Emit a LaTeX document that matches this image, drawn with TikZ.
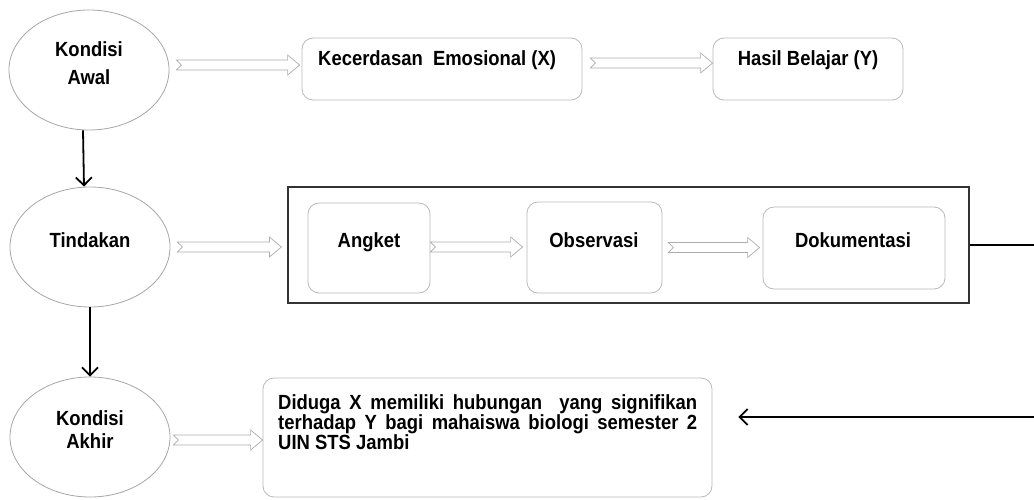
\documentclass[tikz,border=0pt]{standalone}
\usepackage{fontspec}
\setmainfont{Liberation Sans}[FakeStretch=0.9]
\usetikzlibrary{shapes.geometric,arrows.meta,positioning,calc}

% hollow block arrow, drawn level from the first point to the second
\newcommand{\blockarrow}[2]{%
  \path #1 coordinate (ba-s);
  \path #2 coordinate (ba-t);
  \path (ba-t |- ba-s) coordinate (ba-e);
  \draw[hollow] ($(ba-s)+(0,-5)$) -- ($(ba-e)+(-12,-5)$) -- ($(ba-e)+(-12,-10)$) -- (ba-e)
    -- ($(ba-e)+(-12,10)$) -- ($(ba-e)+(-12,5)$) -- ($(ba-s)+(0,5)$) -- ($(ba-s)+(5,0)$) -- cycle;}

\begin{document}
\begin{tikzpicture}[
    x=1pt, y=-1pt,
    every node/.style={font=\bfseries\fontsize{20.5}{24}\selectfont},
    state/.style={ellipse, draw=gray!70, line width=0.8pt, minimum width=160pt, minimum height=120pt, inner sep=0pt},
    box/.style={rectangle, rounded corners=11pt, draw=gray!55, line width=0.8pt, inner sep=0pt},
    frame/.style={rectangle, draw=black!80, line width=1.2pt, inner sep=0pt},
    hollow/.style={draw=gray!65, line width=0.7pt, fill=white},
    flow/.style={-{Straight Barb[length=8pt,width=16pt]}, line width=1.8pt},
    txt/.style={anchor=base, inner sep=0pt}
]
    \useasboundingbox (0,0) rectangle (1034,499);

    % Left column
    \node[state] (awal) at (89,70) {};
    \node[align=center] (awaltxt) at (89,63) {Kondisi\\[4pt]Awal};
    \node[state] (tindakan) at (90,247) {};
    \node[txt] (tindakantxt) at (90,247) {Tindakan};
    \node[state] (akhir) at (90,437) {};
    \node[align=center] (akhirtxt) at (90,430) {Kondisi\\[-1pt]Akhir};

    \draw[flow] ([xshift=-6pt]awal.south) -- ([xshift=-6pt]tindakan.north);
    \draw[flow] (tindakan.south) -- (akhir.north);

    % Top row
    \node[box, minimum width=280pt, minimum height=62pt] (kec) at (442,69) {};
    \node[txt, anchor=base west] (kectxt) at (318,65) {Kecerdasan\ \ Emosional (X)};
    \node[box, minimum width=190pt, minimum height=62pt] (hasil) at (808,69) {};
    \node[txt] (hasiltxt) at (808,65) {Hasil Belajar (Y)};

    \blockarrow{([xshift=7pt,yshift=5pt]awal.east)}{([xshift=-2pt]kec.west)}
    \blockarrow{([xshift=8pt,yshift=6pt]kec.east)}{(hasil.west)}

    % Middle row
    \node[frame, minimum width=681pt, minimum height=116pt] (frame) at (628.5,245) {};
    \node[box, minimum width=122pt, minimum height=90pt] (angket) at (369,248) {};
    \node[txt] (angkettxt) at (369,247) {Angket};
    \node[box, minimum width=135pt, minimum height=91pt] (observasi) at (594.5,247.5) {};
    \node[txt] (observasitxt) at (594,247) {Observasi};
    \node[box, minimum width=182pt, minimum height=82pt] (dokumentasi) at (854,248) {};
    \node[txt] (dokumentasitxt) at (853,247) {Dokumentasi};

    \blockarrow{([xshift=7pt]tindakan.east)}{([xshift=-6pt]frame.west)}
    \blockarrow{([yshift=1pt]angket.east)}{([xshift=-4pt]observasi.west)}
    \blockarrow{([xshift=6pt]observasi.east)}{([xshift=-3pt]dokumentasi.west)}

    % Bottom row
    \node[box, minimum width=449pt, minimum height=119pt] (concl) at (487.5,437.5) {};
    \node[anchor=north west, text width=419pt, align=justify, inner sep=0pt,
          font=\bfseries\fontsize{20.5}{20}\selectfont] (concltxt) at (278,394)
        {Diduga X memiliki hubungan\ \ yang signifikan\linebreak
         terhadap Y bagi mahaiswa biologi semester 2\linebreak
         UIN STS Jambi};

    \blockarrow{([xshift=3pt,yshift=-3pt]akhir.east)}{(concl.west)}

    % Return line at the right edge
    \coordinate (outtop) at (1034,245);
    \coordinate (outbot) at (1034,417);
    \draw[line width=1.6pt] (frame.east) -- (outtop);
    \draw[flow, shorten >=26pt] (outbot) -- (outbot -| concl.east);
\end{tikzpicture}
\end{document}
